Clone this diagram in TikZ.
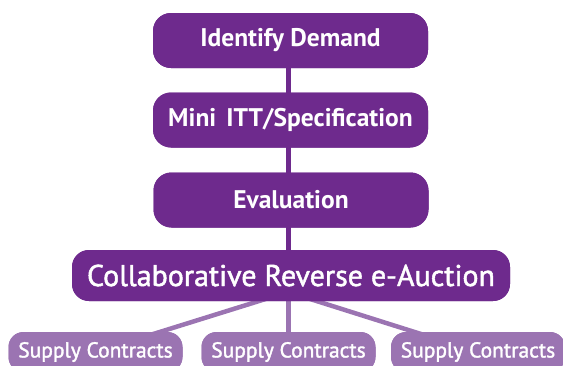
\documentclass[tikz,border=0pt]{standalone}
\usepackage{fontspec}
\setmainfont{PT Sans}
\newfontfamily\mediumface{PT Sans}[FakeBold=1.6]
\definecolor{stagepurple}{HTML}{6E2A8D}
\definecolor{leafpurple}{HTML}{9B74B2}
\begin{document}
\begin{tikzpicture}[x=1pt,y=-1pt,
  stagebox/.style={fill=stagepurple, rounded corners=18pt, text=white,
    minimum width=275pt, minimum height=55pt, inner sep=0pt,
    font=\bfseries\fontsize{25.5}{29}\selectfont},
  auctionbox/.style={fill=stagepurple, rounded corners=17pt, text=white,
    minimum width=438pt, minimum height=51pt, inner sep=0pt,
    font=\mediumface\fontsize{30}{34}\selectfont},
  contractbox/.style={fill=leafpurple, rounded corners=15pt, text=white,
    minimum width=174pt, minimum height=40pt, inner sep=0pt,
    font=\mediumface\fontsize{21.5}{25}\selectfont},
  spine/.style={draw=stagepurple, line width=5pt},
  branch/.style={draw=leafpurple, line width=4.5pt}]
\useasboundingbox (0,0) rectangle (563,365);

% branches to the supply contracts sit behind the boxes
\coordinate (hub) at (288,292);
\node[contractbox] (c1) at (95.5,352) {};
\node[contractbox] (c2) at (288.5,352) {};
\node[contractbox] (c3) at (478,352) {};
\draw[branch] (hub) -- (c1.center);
\draw[branch] (hub) -- (c3.center);
\draw[branch] (288.5,290) -- (c2.center);

% main stages
\node[stagebox] (demand) at (290.5,40.5) {};
\node[stagebox] (spec) at (290.5,120) {};
\node[stagebox] (eval) at (291,200) {};
\node[auctionbox] (auction) at (291,275.5) {};
\draw[spine] (288,68) -- (288,250);

\node[stagebox] at (demand) {Identify Demand};
\node[stagebox] at (spec) {Mini\hspace{0.4em}ITT/Specification};
\node[stagebox] at (eval) {Evaluation};
\node[auctionbox] at (auction) {Collaborative Reverse e-Auction};
\node[contractbox] at (c1) {Supply Contracts};
\node[contractbox] at (c2) {Supply Contracts};
\node[contractbox] at (c3) {Supply Contracts};
\end{tikzpicture}
\end{document}
